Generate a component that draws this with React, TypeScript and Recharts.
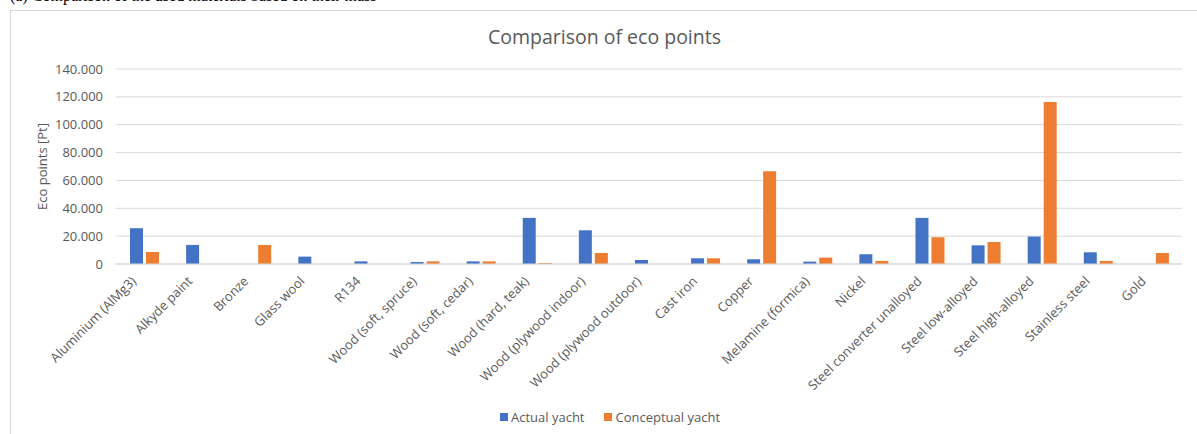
import { BarChart, Bar, XAxis, YAxis, CartesianGrid } from 'recharts'

const materials = [
  'Aluminium (AlMg3)',
  'Alkyde paint',
  'Bronze',
  'Glass wool',
  'R134',
  'Wood (soft, spruce)',
  'Wood (soft, cedar)',
  'Wood (hard, teak)',
  'Wood (plywood indoor)',
  'Wood (plywood outdoor)',
  'Cast iron',
  'Copper',
  'Melamine (formica)',
  'Nickel',
  'Steel converter unalloyed',
  'Steel low-alloyed',
  'Steel high-alloyed',
  'Stainless steel',
  'Gold',
]

// eco points [Pt]
const actualYacht = [
  25700, 13700, 0, 5300, 1900, 1400, 1900, 33100, 24200, 2900,
  4100, 3400, 1700, 7000, 33100, 13400, 19700, 8400, 0,
]
const conceptualYacht = [
  8600, 0, 13700, 0, 0, 1900, 1900, 700, 7900, 0,
  4100, 66600, 4600, 2200, 19200, 15800, 116300, 2200, 7900,
]

const yTicks = [0, 20000, 40000, 60000, 80000, 100000, 120000, 140000]

const FONT = '"Open Sans", "Noto Sans", sans-serif'
const TEXT = '#595959'
const BLUE = '#4472C4'
const ORANGE = '#ED7D31'

const data = materials.map((name, i) => ({
  name,
  actual: actualYacht[i],
  conceptual: conceptualYacht[i],
}))

// 140000 -> "140.000"
const fmt = (v: number) =>
  v === 0 ? '0' : String(v).replace(/\B(?=(\d{3})+(?!\d))/g, '.')

const SlantTick = (props: any) => {
  const { x, y, payload } = props
  const tx = x - 7
  const ty = y + 10
  return (
    <text
      x={tx}
      y={ty}
      transform={`rotate(-45, ${tx}, ${ty})`}
      textAnchor="end"
      fontSize={13}
      fontFamily={FONT}
      fill={TEXT}
    >
      {payload.value}
    </text>
  )
}

export default function App() {
  return (
    <div
      style={{
        position: 'absolute',
        left: 0,
        top: 0,
        width: 1197,
        height: 434,
        overflow: 'hidden',
        background: '#fff',
      }}
    >
      <div
        style={{
          position: 'absolute',
          left: 10,
          top: -13,
          fontFamily: '"Liberation Serif", serif',
          fontSize: 16,
          whiteSpace: 'nowrap',
          color: '#000',
        }}
      >
        (a) Comparison of the used materials based on their mass
      </div>
      <div
        style={{
          position: 'absolute',
          left: 10,
          top: 10,
          width: 1200,
          height: 440,
          border: '1px solid #d9d9d9',
          boxSizing: 'border-box',
        }}
      />
      <div
        style={{
          position: 'absolute',
          left: 0,
          width: 1197,
          top: 23,
          textAlign: 'center',
          fontFamily: FONT,
          fontSize: 19.5,
          color: TEXT,
          paddingLeft: 12,
          boxSizing: 'border-box',
        }}
      >
        Comparison of eco points
      </div>
      <div style={{ position: 'absolute', left: 10, top: 10 }}>
        <BarChart
          width={1187}
          height={424}
          data={data}
          margin={{ top: 59, right: 15, bottom: 0, left: 10 }}
          barSize={13}
          barGap={3}
        >
          <CartesianGrid vertical={false} stroke="#d9d9d9" />
          <XAxis
            dataKey="name"
            interval={0}
            height={170}
            axisLine={{ stroke: '#d9d9d9' }}
            tickLine={false}
            tick={<SlantTick />}
          />
          <YAxis
            width={96}
            domain={[0, 140000]}
            ticks={yTicks}
            tickFormatter={fmt}
            axisLine={false}
            tickLine={false}
            tick={{ fontSize: 13, fill: TEXT, fontFamily: FONT, dx: -5 }}
            label={{
              value: 'Eco points [Pt]',
              angle: -90,
              position: 'insideLeft',
              offset: 22,
              style: { textAnchor: 'middle', fontSize: 13, fill: TEXT, fontFamily: FONT },
            }}
          />
          <Bar dataKey="actual" fill={BLUE} isAnimationActive={false} />
          <Bar dataKey="conceptual" fill={ORANGE} isAnimationActive={false} />
        </BarChart>
      </div>
      <div
        style={{
          position: 'absolute',
          top: 408,
          left: 500,
          display: 'flex',
          alignItems: 'center',
          fontFamily: FONT,
          fontSize: 13,
          color: TEXT,
          whiteSpace: 'nowrap',
        }}
      >
        <span style={{ width: 8, height: 8, background: BLUE, marginRight: 3 }} />
        <span>Actual yacht</span>
        <span style={{ width: 8, height: 8, background: ORANGE, marginLeft: 19, marginRight: 4 }} />
        <span>Conceptual yacht</span>
      </div>
    </div>
  )
}
